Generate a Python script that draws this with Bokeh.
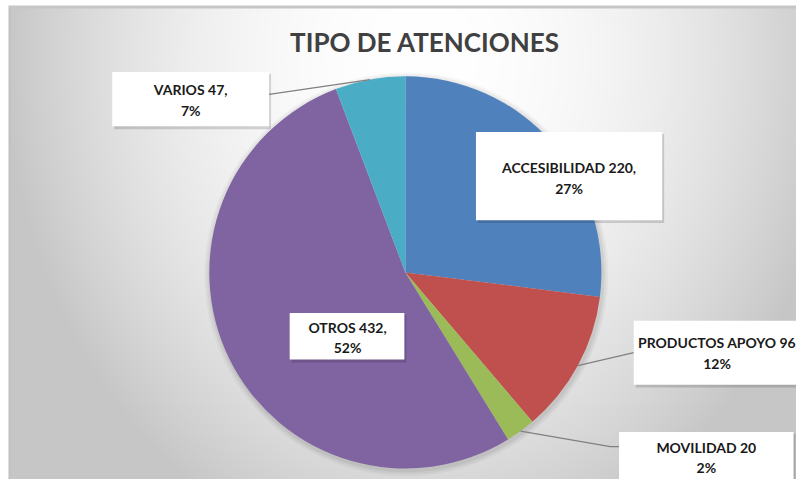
import numpy as np
from bokeh.plotting import figure
from bokeh.models import Range1d
from bokeh.core.properties import value
from bokeh.embed import file_html
from bokeh.resources import INLINE

# ---- data ----
title = "TIPO DE ATENCIONES"
categories = ["ACCESIBILIDAD", "PRODUCTOS APOYO", "MOVILIDAD", "OTROS", "VARIOS"]
values = [220, 96, 20, 432, 47]
percent_labels = ["27%", "12%", "2%", "52%", "7%"]
separators = [",", "", "", ",", ","]

# ---- style ----
colors = ["#4F81BD", "#C0504D", "#9BBB59", "#8064A2", "#4BACC6"]
W, H = 796, 479          # figure size in px
RW, RH = 812, 495        # layout space (reference pixel grid)


def Y(sy):
    # layout y (top-down) -> data y
    return RH - sy


p = figure(width=W, height=H, output_backend="svg", toolbar_location=None,
           x_range=Range1d(0, RW), y_range=Range1d(0, RH),
           min_border=0, outline_line_color=None)
p.axis.visible = False
p.grid.visible = False
p.background_fill_color = "white"
p.border_fill_color = "white"

# background radial gradient (Excel chart area), starts at (8, 5)
xs = np.arange(RW) + 0.5
ys = np.arange(RH) + 0.5
GX, GY = np.meshgrid(xs, ys)
d2 = ((GX - 430) / 420.0) ** 2 + ((GY - 60) / 520.0) ** 2
g = np.clip(255 - 55 * d2, 198, 255)
g[:, 8:10] = np.minimum(g[:, 8:10], 192)
g[5:8, 8:] = 198
g[:, :8] = 255
g[:5, :] = 255
img = np.empty((RH, RW), dtype=np.uint32)
view = img.view(dtype=np.uint8).reshape((RH, RW, 4))
gv = g.astype(np.uint8)[::-1]
view[:, :, 0] = gv
view[:, :, 1] = gv
view[:, :, 2] = gv
view[:, :, 3] = 255
p.image_rgba(image=[img], x=0, y=0, dw=RW, dh=RH)

# ---- pie ----
cx, cy, r = 413, Y(281), 200
ry = r * (W / RW) / (H / RH)   # radius in y data units
total = float(sum(values))
fr = np.array(values) / total
cum = np.concatenate([[0], np.cumsum(fr)])
start = np.pi / 2 - cum[:-1] * 2 * np.pi
end = np.pi / 2 - cum[1:] * 2 * np.pi
mid = (start + end) / 2

# soft shadow
for k, a in [(6, 0.03), (4, 0.04), (2, 0.05)]:
    p.circle(x=[cx + 1], y=[cy - 2], radius=r + k, fill_color="black",
             fill_alpha=a, line_color=None)

p.wedge(x=cx, y=cy, radius=r, start_angle=start, end_angle=end,
        direction="clock", fill_color=colors, line_color=None)

# ---- labels ----
# box (left, top, right, bottom), text center x, line1 y, line2 y (layout px)
boxes = {
    0: (485, 136, 675, 227, 580, 173, 194),
    1: (646, 331, 830, 397, 731, 353, 375),
    2: (631, 446, 809, 520, 720, 462, 483),
    3: (295, 323, 412, 371, 354, 338, 359),
    4: (114, 74, 274, 130, 194, 92, 114),
}
# leader line outer anchor points, for outside labels
leaders = {
    1: [(646, 364)],
    2: [(631, 461), (622, 461)],
    4: [(274, 97)],
}
for i, pts in leaders.items():
    ex = cx + r * np.cos(mid[i])
    ey = cy + ry * np.sin(mid[i])
    lx = [pt[0] for pt in pts] + [ex]
    ly = [Y(pt[1]) for pt in pts] + [ey]
    p.line(x=lx, y=ly, line_color="#808080", line_width=1.3)

for i in range(len(categories)):
    l, t, rr, b, tx, ty1, ty2 = boxes[i]
    p.quad(left=l + 2, right=rr + 2, top=Y(t + 2), bottom=Y(b + 3),
           fill_color="black", fill_alpha=0.15, line_color=None)
    p.quad(left=l, right=rr, top=Y(t), bottom=Y(b),
           fill_color="white", line_color=None)
    line1 = f"{categories[i]} {values[i]}{separators[i]}"
    p.text(x=[tx], y=[Y(ty1)], text=[line1], text_align="center",
           text_baseline="middle", text_font=value("Lato"),
           text_font_style="bold", text_font_size="14px", text_color="#1a1a1a")
    p.text(x=[tx], y=[Y(ty2)], text=[percent_labels[i]], text_align="center",
           text_baseline="middle", text_font=value("Lato"),
           text_font_style="bold", text_font_size="14px", text_color="#1a1a1a")

# title
p.text(x=[433], y=[Y(43)], text=[title], text_align="center",
       text_baseline="middle", text_font=value("Lato"),
       text_font_style="bold", text_font_size="26px", text_color="#404040")

open("out.html", "w").write(file_html(p, INLINE))
